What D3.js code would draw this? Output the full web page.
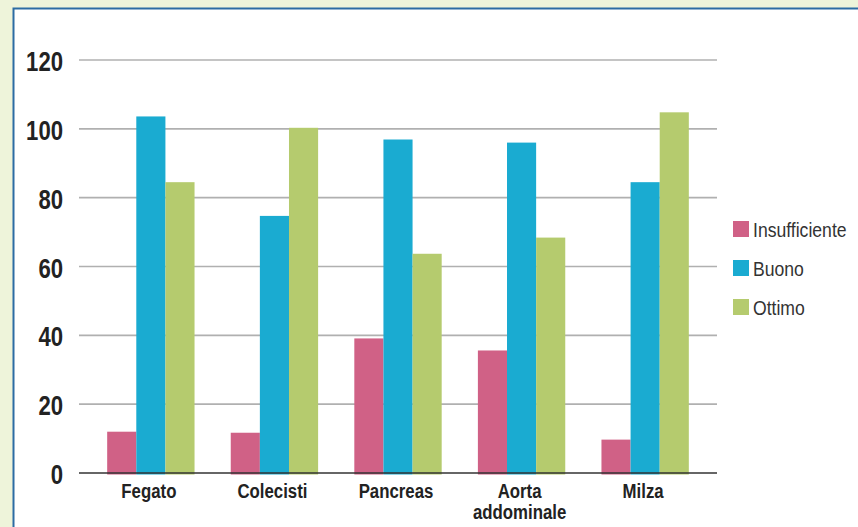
<!DOCTYPE html>
<html>
<head>
<meta charset="utf-8">
<script src="https://cdn.jsdelivr.net/npm/d3@7"></script>
<style>
  html, body { margin: 0; padding: 0; background: #eef4da; }
  svg { display: block; }
</style>
</head>
<body>
<script>
// ---- data ----
const categories = ["Fegato", "Colecisti", "Pancreas", "Aorta addominale", "Milza"];
const categoryLines = [["Fegato"], ["Colecisti"], ["Pancreas"], ["Aorta", "addominale"], ["Milza"]];
const seriesNames = ["Insufficiente", "Buono", "Ottimo"];
const insufficiente = [12, 11.7, 39.1, 35.6, 9.7];
const buono = [103.6, 74.7, 96.9, 96, 84.5];
const ottimo = [84.5, 100.3, 63.7, 68.4, 104.8];
const yTicks = [0, 20, 40, 60, 80, 100, 120];
const seriesColors = ["#d06186", "#1aabd1", "#b5cb6e"];

const seriesValues = [insufficiente, buono, ottimo];

const W = 858, H = 527;
const FONT = "'Liberation Sans', Arial, sans-serif";
const NARROW = 0.82;
const svg = d3.select("body").append("svg").attr("width", W).attr("height", H);

// background + panel
svg.append("rect").attr("x", 0).attr("y", 0).attr("width", W).attr("height", H).attr("fill", "#eef4da");
svg.append("rect").attr("x", 13.5).attr("y", 8.5).attr("width", W + 20).attr("height", H + 20)
  .attr("fill", "#ffffff").attr("stroke", "#2c6ca3").attr("stroke-width", 2);

const plotLeft = 79, plotRight = 717;
const y = d3.scaleLinear().domain([0, 120]).range([473, 60]);
const x0 = d3.scaleBand().domain(categories).range([plotLeft, plotRight]).paddingInner(0.293).paddingOuter(0.228);
const x1 = d3.scaleBand().domain(seriesNames).range([0, x0.bandwidth()]);

// gridlines
svg.append("g").selectAll("line").data(yTicks.filter(d => d > 0)).join("line")
  .attr("x1", plotLeft).attr("x2", plotRight)
  .attr("y1", d => y(d)).attr("y2", d => y(d))
  .attr("stroke", "#b0b0b0").attr("stroke-width", 1.6);

// y tick labels (condensed via horizontal scale)
svg.append("g").selectAll("g").data(yTicks).join("g")
  .attr("transform", d => `translate(63,${y(d) + 11}) scale(${NARROW},1)`)
  .append("text")
  .attr("text-anchor", "end")
  .attr("font-family", FONT)
  .attr("font-weight", "bold")
  .attr("font-size", 27)
  .attr("fill", "#222")
  .text(d => d);

// bars
const groups = svg.append("g").selectAll("g").data(categories).join("g")
  .attr("transform", d => `translate(${x0(d)},0)`);
groups.selectAll("rect").data((c, i) => seriesNames.map((s, j) => ({ s, v: seriesValues[j][i], j })))
  .join("rect")
  .attr("x", d => x1(d.s))
  .attr("width", x1.bandwidth())
  .attr("y", d => y(d.v))
  .attr("height", d => y(0) - y(d.v) + 1.5)
  .attr("fill", d => seriesColors[d.j]);

// baseline
svg.append("line").attr("x1", plotLeft).attr("x2", plotRight)
  .attr("y1", y(0)).attr("y2", y(0)).attr("stroke", "#333").attr("stroke-width", 1.6);

// x labels
categories.forEach((c, i) => {
  const g = svg.append("g")
    .attr("transform", `translate(${x0(c) + x0.bandwidth() / 2 - 2},498) scale(${NARROW},1)`);
  const t = g.append("text")
    .attr("text-anchor", "middle")
    .attr("font-family", FONT)
    .attr("font-weight", "bold")
    .attr("font-size", 20.5)
    .attr("fill", "#222");
  categoryLines[i].forEach((line, k) => {
    t.append("tspan").attr("x", 0).attr("dy", k === 0 ? 0 : 21).text(line);
  });
});

// legend
const legend = svg.append("g").selectAll("g").data(seriesNames).join("g")
  .attr("transform", (d, i) => `translate(733, ${221 + i * 39})`);
legend.append("rect").attr("width", 16).attr("height", 16).attr("fill", (d, i) => seriesColors[i]);
legend.append("g").attr("transform", `translate(20,16) scale(0.88,1)`)
  .append("text")
  .attr("font-family", FONT)
  .attr("font-size", 20)
  .attr("fill", "#333")
  .text(d => d);
</script>
</body>
</html>
